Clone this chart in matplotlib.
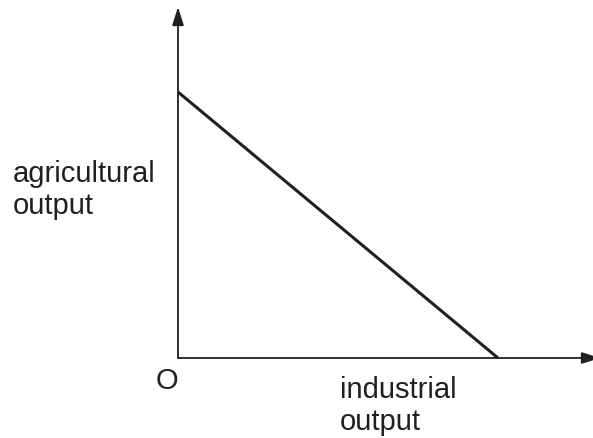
import matplotlib
matplotlib.use('Agg')
import matplotlib.pyplot as plt

# Production possibility line (pixel-ish units measured from origin O)
ppf_industrial = [0, 320]
ppf_agricultural = [266, 0]

# axis extents (arrow tips)
x_axis_end = 422
y_axis_end = 351

ink = '#231f20'

plt.rcParams['font.family'] = ['Liberation Sans', 'DejaVu Sans']

fig = plt.figure(figsize=(5.93, 4.39), dpi=100)
ax = fig.add_axes([0, 0, 1, 1])
ax.set_xlim(-178, 415)
ax.set_ylim(-80, 359)
ax.axis('off')

# axes with arrowheads
arrow_style = dict(arrowstyle='-|>,head_length=1.1,head_width=0.35', color=ink,
                   lw=1.3, shrinkA=0, shrinkB=0)
ax.annotate('', xy=(0, y_axis_end), xytext=(0, 0), arrowprops=arrow_style)
ax.annotate('', xy=(x_axis_end, 0), xytext=(0, 0), arrowprops=arrow_style,
            annotation_clip=False)

# PPF line
ax.plot(ppf_industrial, ppf_agricultural, color=ink, lw=2.2, solid_capstyle='butt')

fs = 21
# va='top' anchored so first line sits where the reference has it
ax.text(-165, 199, 'agricultural\noutput', fontsize=fs, color=ink,
        ha='left', va='top', linespacing=1.16)
ax.text(-11, -22, 'O', fontsize=fs, color=ink, ha='center', va='center')
ax.text(162, -17, 'industrial\noutput', fontsize=fs, color=ink,
        ha='left', va='top', linespacing=1.16)

fig.savefig('out.png', dpi=100)
